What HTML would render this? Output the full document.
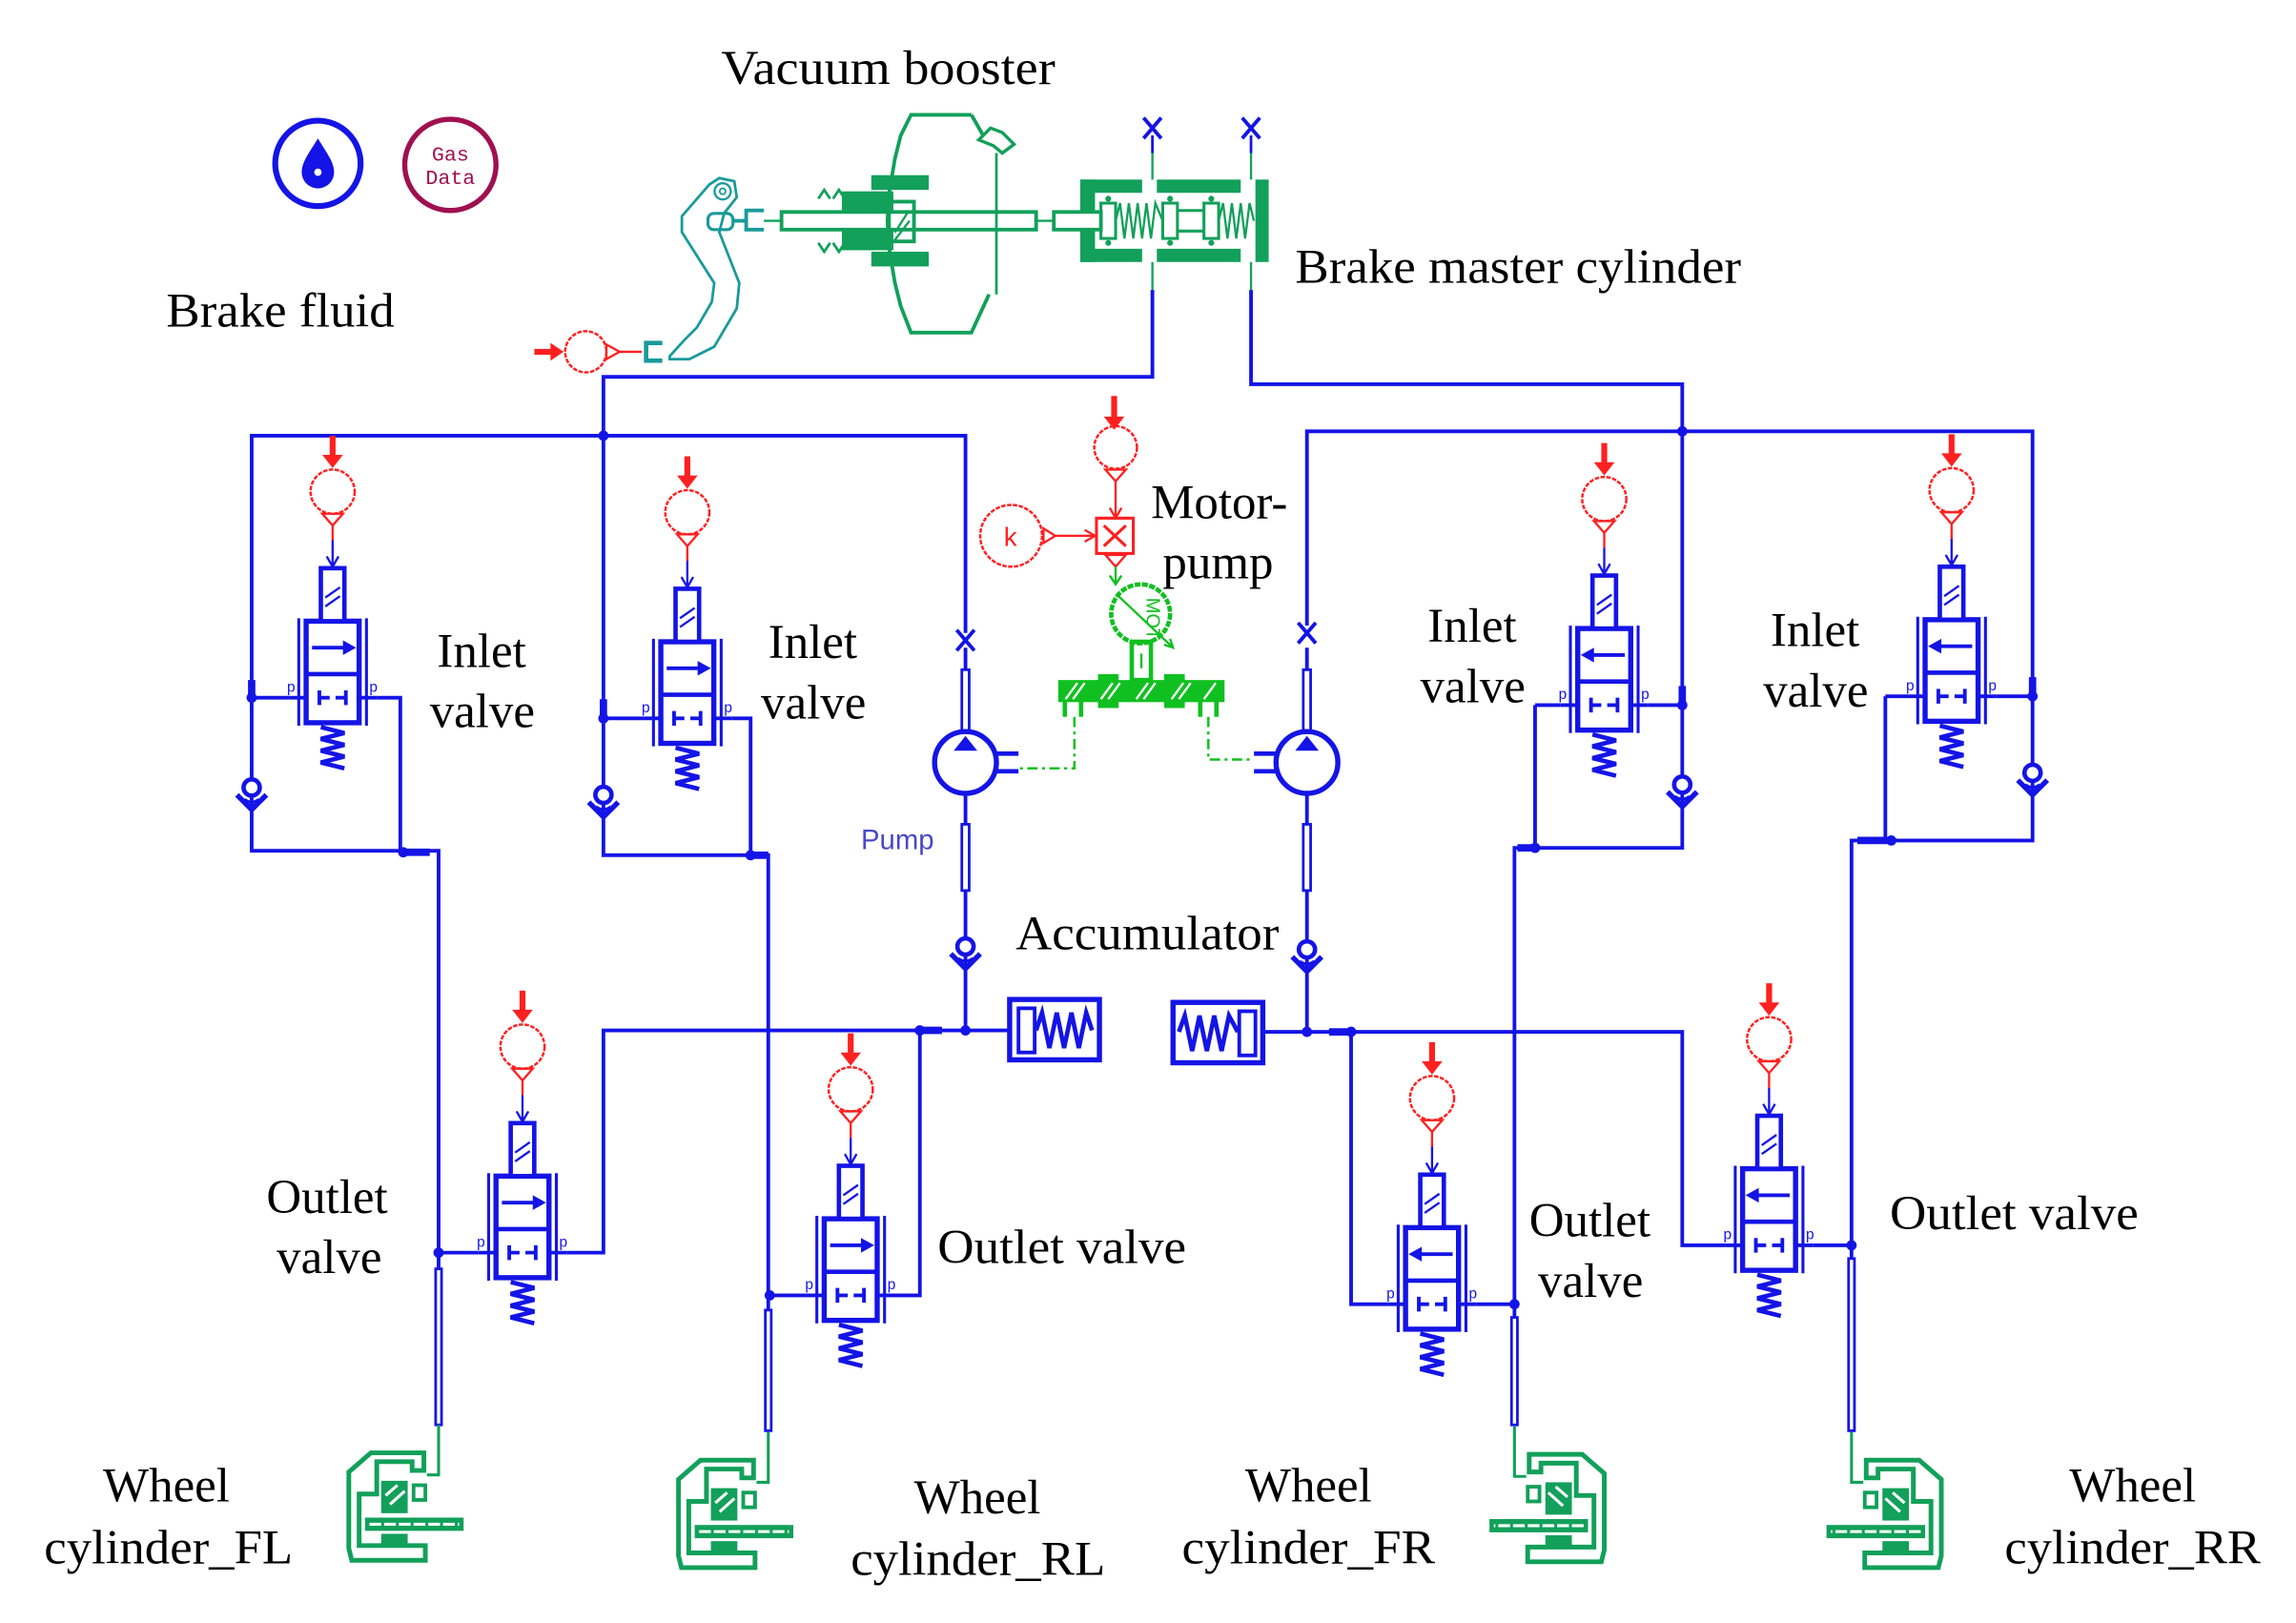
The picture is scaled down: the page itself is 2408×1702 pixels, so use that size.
<!DOCTYPE html>
<html><head><meta charset="utf-8"><style>
html,body{margin:0;padding:0;background:#fff;}
svg{display:block;}
text{font-family:"Liberation Serif",serif;fill:#000;}
</style></head><body>
<svg width="2408" height="1702" viewBox="0 0 1560 1102.6" preserveAspectRatio="none" xmlns="http://www.w3.org/2000/svg">
<defs>
<g id="valve">
 <rect x="-18" y="-52" width="36" height="69" fill="#fff" stroke="#1414e6" stroke-width="3.5"/>
 <line x1="-18" y1="-16" x2="18" y2="-16" stroke="#1414e6" stroke-width="3"/>
 <rect x="-8" y="-88" width="16" height="36" fill="#fff" stroke="#1414e6" stroke-width="3"/>
 <path d="M-5,-68 L5,-75 M-5,-62 L5,-69" stroke="#1414e6" stroke-width="1.5" fill="none"/>
 <path d="M-23,-54 V19 M23,-54 V19" stroke="#1414e6" stroke-width="2" fill="none"/>
 <path d="M-9,-5 V5 M-9,0 H-2 M9,-5 V5 M9,0 H2 M-18,0 H-30 M18,0 H30" stroke="#1414e6" stroke-width="2.5" fill="none"/>
 <path d="M-8,20 L8,24 L-8,28 L8,32 L-8,36 L8,40 L-8,44 L8,48" stroke="#1414e6" stroke-width="3" fill="none"/>
 <text x="-31" y="-4" font-size="10" style="font-family:'Liberation Sans',sans-serif;fill:#1414e6">p</text>
 <text x="25" y="-4" font-size="10" style="font-family:'Liberation Sans',sans-serif;fill:#1414e6">p</text>
 <circle cx="0" cy="-140" r="15" fill="none" stroke="#ff2020" stroke-width="1.6" stroke-dasharray="3 1"/>
 <path d="M-7,-125 L7,-125 L0,-117 Z M0,-117 V-107" stroke="#ff2020" stroke-width="1.5" fill="none"/>
 <path d="M0,-107 V-89 M-4,-96 L0,-89 L4,-96" stroke="#1414e6" stroke-width="1.5" fill="none"/>
 <path d="M0,-178 V-164" stroke="#ff2020" stroke-width="4"/>
 <polygon points="-7,-165 7,-165 0,-156" fill="#ff2020"/>
</g>
<g id="arrR"><line x1="-14" y1="-34" x2="10" y2="-34" stroke="#1414e6" stroke-width="2.5"/><polygon points="16,-34 7,-39 7,-29" fill="#1414e6"/></g>
<g id="chk">
 <circle cx="0" cy="-5" r="5.5" fill="#fff" stroke="#1414e6" stroke-width="3"/>
 <path d="M-10,0 L0,10 L10,0" stroke="#1414e6" stroke-width="3.5" fill="none"/>
 <path d="M-5,3 Q0,7 5,3" stroke="#1414e6" stroke-width="2" fill="none"/>
</g>
<g id="xm"><path d="M-6,-7 L6,7 M6,-7 L-6,7" stroke="#1414e6" stroke-width="2.5"/></g>
<g id="dp"><rect x="-2.5" y="0" width="5" height="1" fill="#fff" stroke="#1414e6" stroke-width="1.8"/></g>
<g id="wheel" stroke="#12a05a" fill="none">
 <path d="M298,968 V1002 H290" stroke-width="2"/>
 <path d="M280,999 H288 V987 H252 L237,1000 V1052 L239,1060 H289 V1050 H244 V1015 H256 V993 H280 Z" stroke-width="3.2"/>
 <rect x="259" y="1006" width="18" height="22" fill="#12a05a" stroke="none"/>
 <path d="M262,1016 L270,1009 M265,1022 L275,1013" stroke="#fff" stroke-width="2"/>
 <rect x="281" y="1009" width="8" height="10" stroke-width="2.5"/>
 <rect x="248" y="1031" width="67" height="9" fill="#12a05a" stroke="none"/>
 <line x1="251" y1="1035.5" x2="312" y2="1035.5" stroke="#fff" stroke-width="2" stroke-dasharray="8 2"/>
 <rect x="259" y="1042" width="18" height="8" fill="#12a05a" stroke="none"/>
</g>
</defs>

<!-- icons -->
<circle cx="216" cy="111" r="29" fill="none" stroke="#1414e6" stroke-width="4"/>
<path d="M216,94 C210,104 205,110 205,117 A11,11 0 0 0 227,117 C227,110 222,104 216,94 Z" fill="#1414e6"/>
<circle cx="216" cy="117" r="2.5" fill="#fff"/>
<circle cx="306" cy="112" r="31" fill="none" stroke="#a01050" stroke-width="3.5"/>
<text x="306" y="109" font-size="14" text-anchor="middle" style="font-family:'Liberation Mono',monospace;fill:#a01050">Gas</text>
<text x="306" y="125" font-size="14" text-anchor="middle" style="font-family:'Liberation Mono',monospace;fill:#a01050">Data</text>

<!-- pedal -->
<path d="M363,239 H376" stroke="#ff2020" stroke-width="4"/>
<polygon points="374,233 383,239 374,245" fill="#ff2020"/>
<circle cx="398" cy="239" r="14" fill="none" stroke="#ff2020" stroke-width="1.6" stroke-dasharray="3 1"/>
<path d="M412,234 L421,239 L412,244 Z M421,239 H436" stroke="#ff2020" stroke-width="1.5" fill="none"/>
<path d="M450,233 H439 V245 H450" stroke="#1a9a9a" stroke-width="3" fill="none"/>
<path d="M455,242 L465,231 L473.5,222.5 L483.6,205.2 L485.3,192.3 L463.3,157.7 L463.3,146.9 L482,125.3 L488.7,121 L498.9,123.1 L500.6,134 L492.1,144.7 L488.7,157.7 L502.3,192.3 L500.6,209.5 L485.3,235.5 L468.4,244 L455,244 Z" fill="none" stroke="#1a9a9a" stroke-width="1.8"/>
<circle cx="491" cy="130" r="5.5" fill="none" stroke="#1a9a9a" stroke-width="1.5"/>
<circle cx="491" cy="130" r="2" fill="none" stroke="#1a9a9a" stroke-width="1.2"/>
<rect x="481" y="145" width="17" height="11" rx="4" fill="none" stroke="#1a9a9a" stroke-width="2"/>
<path d="M498,150 H506 M519,143 H507 V156 H519" stroke="#1a9a9a" stroke-width="2.5" fill="none"/>
<!-- booster -->
<g stroke="#12a05a" fill="none">
 <path d="M519,150 H531" stroke-width="1.5"/>
 <rect x="531" y="144" width="173" height="12" stroke-width="2.5"/>
 <path d="M704,150 H716" stroke-width="1.5"/>
 <rect x="716" y="144" width="32" height="12" stroke-width="2.5"/>
 <path d="M660,78 H619 L612,92 L608,108 L606,120 L604,132 L603,150 L604,168 L606,180 L608,192 L612,208 L619,226 H660 L672,200 M660,78 L668,92" stroke-width="2.5"/>
 <path d="M677,104 V200" stroke-width="1.8"/>
 <path d="M665,95 L673,87 L681,90 L689,98 L681,104 L675,99 Z" stroke-width="2.2"/>
 <rect x="604" y="137" width="17" height="27" stroke-width="2.5"/>
 <path d="M608,158 L617,144 M608,163 L618,150" stroke-width="1.5"/>
 <path d="M556,135 L560,129 L564,135 M566,135 L570,129 L574,135 M556,165 L560,171 L564,165 M566,165 L570,171 L574,165" stroke-width="1.8"/>
</g>
<g fill="#12a05a">
 <rect x="592" y="119" width="39" height="10"/><rect x="592" y="171" width="39" height="10"/>
 <rect x="572" y="130" width="35" height="13"/><rect x="572" y="157" width="35" height="13"/>
</g>
<!-- master cylinder -->
<g fill="#12a05a">
 <rect x="734" y="122" width="42" height="9"/><rect x="786" y="122" width="57" height="9"/>
 <rect x="734" y="169" width="42" height="9"/><rect x="786" y="169" width="57" height="9"/>
 <rect x="734" y="122" width="10" height="21"/><rect x="734" y="157" width="10" height="21"/>
 <rect x="853" y="122" width="9" height="56"/>
</g>
<g stroke="#12a05a" fill="none" stroke-width="2">
 <rect x="748" y="138" width="10" height="24"/><rect x="790" y="138" width="10" height="24"/><rect x="818" y="138" width="10" height="24"/>
 <path d="M800,143 H818 M800,157 H818"/>
 <path d="M758,150 L761,138 L764,162 L767,138 L770,162 L773,138 L776,162 L779,138 L782,162 L785,138 L790,150" stroke-width="1.5"/>
 <path d="M828,150 L831,138 L834,162 L837,138 L840,162 L843,138 L846,162 L849,138 L852,150" stroke-width="1.5"/>
 <path d="M783,104 V122 M850,104 V122 M783,178 V197 M850,178 V197" stroke-width="1.5"/>
</g>
<g fill="#12a05a"><circle cx="753" cy="135" r="2"/><circle cx="753" cy="165" r="2"/><circle cx="795" cy="135" r="2"/><circle cx="795" cy="165" r="2"/><circle cx="823" cy="135" r="2"/><circle cx="823" cy="165" r="2"/></g>
<path d="M783,92 V104 M850,92 V104" stroke="#1414e6" stroke-width="1.8"/>
<use href="#xm" x="783" y="87"/><use href="#xm" x="850" y="87"/>

<!-- pipes -->
<g stroke="#1414e6" stroke-width="2.5" fill="none">
 <path d="M783,197 V256 H410 V581 H522 V890"/>
 <path d="M656,430 V296 H171 V578 H298 V862"/>
 <path d="M171,474 H196 M256,474 H272 V578"/>
 <path d="M410,488 H437 M497,488 H510 V581"/>
 <path d="M656,440 V455 M656,540 V560 M656,605 V700 H410 V851 H385"/>
 <path d="M686,700 H656 M625,700 V880 H608 M325,851 H298 M548,880 H523"/>
 <path d="M850,197 V261 H1143 V576 H1029 V895"/>
 <path d="M888,425 V293 H1381 V571 H1258 V855"/>
 <path d="M1043,479 V576 M1043,479 H1060 M1120,479 H1143"/>
 <path d="M1281,473 V571 M1281,473 H1296 M1356,473 H1381"/>
 <path d="M888,440 V455 M888,540 V560 M888,605 V701 H1143 V846 H1172"/>
 <path d="M858,701 H888 M918,701 V886 H943 M1003,886 H1029 M1232,846 H1258"/>
</g>
<!-- thick junction stubs -->
<g stroke="#1414e6" stroke-width="5">
 <path d="M274,579 H292 M510,581 H522 M1043,576 H1031 M1285,571 H1262 M625,700 H640 M903,701 H918 M171,462 V474 M410,475 V488 M1143,466 V479 M1381,460 V473"/>
</g>
<g fill="#1414e6">
 <circle cx="410" cy="296" r="3.5"/><circle cx="1143" cy="293" r="3.5"/>
 <circle cx="171" cy="474" r="3.5"/><circle cx="410" cy="488" r="3.5"/><circle cx="1143" cy="479" r="3.5"/><circle cx="1381" cy="473" r="3.5"/>
 <circle cx="274" cy="579" r="3.5"/><circle cx="510" cy="581" r="3.5"/><circle cx="1043" cy="576" r="3.5"/><circle cx="1285" cy="571" r="3.5"/>
 <circle cx="656" cy="700" r="3.5"/><circle cx="625" cy="700" r="3.5"/><circle cx="888" cy="701" r="3.5"/><circle cx="918" cy="701" r="3.5"/>
 <circle cx="298" cy="851" r="3.5"/><circle cx="523" cy="880" r="3.5"/><circle cx="1029" cy="886" r="3.5"/><circle cx="1258" cy="846" r="3.5"/>
</g>
<!-- double pipes -->
<g fill="#fff" stroke="#1414e6" stroke-width="1.8">
 <rect x="653.5" y="455" width="5" height="50"/><rect x="653.5" y="560" width="5" height="45"/>
 <rect x="885.5" y="455" width="5" height="50"/><rect x="885.5" y="560" width="5" height="45"/>
 <rect x="296" y="862" width="4" height="106"/><rect x="520" y="890" width="4" height="82"/>
 <rect x="1027" y="895" width="4" height="73"/><rect x="1256" y="855" width="4" height="117"/>
</g>
<use href="#xm" x="656" y="435"/><use href="#xm" x="888" y="430"/>
<!-- check valves -->
<use href="#chk" x="171" y="540"/><use href="#chk" x="410" y="545"/><use href="#chk" x="656" y="648"/>
<use href="#chk" x="888" y="650"/><use href="#chk" x="1143" y="538"/><use href="#chk" x="1381" y="530"/>

<!-- pumps -->
<g stroke="#1414e6" stroke-width="3.5" fill="#fff">
 <circle cx="656" cy="518" r="21"/><circle cx="888" cy="518" r="21"/>
</g>
<polygon points="656,500 648,510 664,510" fill="#1414e6"/>
<polygon points="888,500 880,510 896,510" fill="#1414e6"/>
<path d="M677,512 H692 M677,524 H692 M867,512 H852 M867,524 H852" stroke="#1414e6" stroke-width="3"/>
<text x="585" y="577" font-size="19" style="font-family:'Liberation Sans',sans-serif;fill:#4848c8">Pump</text>

<!-- accumulators -->
<g stroke="#1414e6" fill="none">
 <rect x="686" y="679" width="61" height="41" stroke-width="3.5"/>
 <rect x="692" y="685" width="11" height="30" stroke-width="2.5"/>
 <path d="M704,700 L708,688 L713,712 L718,688 L723,712 L728,688 L733,712 L738,688 L742,700" stroke-width="3"/>
 <rect x="797" y="681" width="61" height="41" stroke-width="3.5"/>
 <rect x="842" y="687" width="11" height="30" stroke-width="2.5"/>
 <path d="M801,701 L805,690 L810,714 L815,690 L820,714 L825,690 L830,714 L835,690 L841,701" stroke-width="3"/>
</g>

<!-- motor pump -->
<path d="M757,269 V284" stroke="#ff2020" stroke-width="4"/>
<polygon points="750,283 764,283 757,292" fill="#ff2020"/>
<circle cx="758" cy="304" r="14.5" fill="none" stroke="#ff2020" stroke-width="1.6" stroke-dasharray="3 1"/>
<path d="M751,319 L765,319 L758,327 Z M758,327 V352 M754,345 L758,352 L762,345" stroke="#ff2020" stroke-width="1.5" fill="none"/>
<rect x="745" y="352" width="25" height="24" fill="none" stroke="#ff2020" stroke-width="2"/>
<path d="M750,357 L765,371 M765,357 L750,371" stroke="#ff2020" stroke-width="2"/>
<circle cx="687" cy="364" r="21" fill="none" stroke="#ff2020" stroke-width="1.6" stroke-dasharray="3 1"/>
<text x="682" y="371" font-size="18" style="font-family:'Liberation Sans',sans-serif;fill:#ff2020">k</text>
<path d="M709,359 L717,364 L709,369 Z M717,364 H744 M737,360 L744,364 L737,368" stroke="#ff2020" stroke-width="1.5" fill="none"/>
<path d="M751,377 L765,377 L758,385 Z" stroke="#ff2020" stroke-width="1.5" fill="none"/>
<path d="M758,385 V397 M754,391 L758,397 L762,391" stroke="#10c020" stroke-width="1.5" fill="none"/>
<circle cx="775" cy="417" r="20" fill="none" stroke="#10c020" stroke-width="3" stroke-dasharray="4 1"/>
<text x="0" y="0" font-size="13" transform="translate(779,406) rotate(90)" style="font-family:'Liberation Sans',sans-serif;fill:#10c020">MOT</text>
<path d="M760,405 L797,440 M791,438 L797,440 L795,434" stroke="#10c020" stroke-width="1.5" fill="none"/>
<rect x="769" y="436" width="13" height="26" fill="none" stroke="#10c020" stroke-width="3"/>
<path d="M775.5,444 V454" stroke="#10c020" stroke-width="1.5"/>
<rect x="719" y="462" width="113" height="15" fill="#10c020"/>
<path d="M724,475 L732,464 M729,475 L737,464 M748,475 L756,464 M753,475 L761,464 M772,475 L780,464 M777,475 L785,464 M796,475 L804,464 M801,475 L809,464 M818,475 L826,464" stroke="#fff" stroke-width="1.5"/>
<g fill="#10c020"><rect x="746" y="458" width="14" height="5"/><rect x="791" y="458" width="14" height="5"/><rect x="746" y="476" width="14" height="5"/><rect x="791" y="476" width="14" height="5"/>
<rect x="722" y="476" width="3" height="11"/><rect x="733" y="476" width="3" height="11"/><rect x="814" y="476" width="3" height="11"/><rect x="825" y="476" width="3" height="11"/></g>
<path d="M730,487 V522 H692 M821,487 V516 H852" stroke="#10c020" stroke-width="1.6" fill="none" stroke-dasharray="7 3 2 3"/>

<!-- valves -->
<use href="#valve" x="226" y="474"/><use href="#arrR" x="226" y="474"/>
<use href="#valve" x="467" y="488"/><use href="#arrR" x="467" y="488"/>
<use href="#valve" x="1090" y="479"/><use href="#arrR" transform="translate(1090,479) scale(-1,1)"/>
<use href="#valve" x="1326" y="473"/><use href="#arrR" transform="translate(1326,473) scale(-1,1)"/>
<use href="#valve" x="355" y="851"/><use href="#arrR" x="355" y="851"/>
<use href="#valve" x="578" y="880"/><use href="#arrR" x="578" y="880"/>
<use href="#valve" x="973" y="886"/><use href="#arrR" transform="translate(973,886) scale(-1,1)"/>
<use href="#valve" x="1202" y="846"/><use href="#arrR" transform="translate(1202,846) scale(-1,1)"/>

<!-- wheel cylinders -->
<use href="#wheel"/>
<use href="#wheel" transform="translate(224,5)"/>
<use href="#wheel" transform="matrix(-1,0,0,1,1327,1)"/>
<use href="#wheel" transform="matrix(-1,0,0,1,1556,5)"/>

<!-- labels -->
<g font-size="33">
<text x="490" y="57" textLength="227" lengthAdjust="spacingAndGlyphs">Vacuum booster</text>
<text x="880" y="192" textLength="303" lengthAdjust="spacingAndGlyphs">Brake master cylinder</text>
<text x="113" y="222" textLength="155" lengthAdjust="spacingAndGlyphs">Brake fluid</text>
<text x="782" y="352">Motor-</text>
<text x="790" y="393">pump</text>
<text x="297" y="453">Inlet</text><text x="292" y="494">valve</text>
<text x="522" y="447">Inlet</text><text x="517" y="488">valve</text>
<text x="970" y="436">Inlet</text><text x="965" y="477">valve</text>
<text x="1203" y="439">Inlet</text><text x="1198" y="480">valve</text>
<text x="690" y="645" textLength="179" lengthAdjust="spacingAndGlyphs">Accumulator</text>
<text x="181" y="824">Outlet</text><text x="188" y="865">valve</text>
<text x="637" y="858" textLength="169" lengthAdjust="spacingAndGlyphs">Outlet valve</text>
<text x="1039" y="840">Outlet</text><text x="1045" y="881">valve</text>
<text x="1284" y="835" textLength="169" lengthAdjust="spacingAndGlyphs">Outlet valve</text>
<text x="70" y="1020">Wheel</text><text x="30" y="1062" textLength="169" lengthAdjust="spacingAndGlyphs">cylinder_FL</text>
<text x="621" y="1028">Wheel</text><text x="578" y="1070" textLength="173" lengthAdjust="spacingAndGlyphs">cylinder_RL</text>
<text x="846" y="1020">Wheel</text><text x="803" y="1062" textLength="172" lengthAdjust="spacingAndGlyphs">cylinder_FR</text>
<text x="1406" y="1020">Wheel</text><text x="1362" y="1062" textLength="174" lengthAdjust="spacingAndGlyphs">cylinder_RR</text>
</g>
</svg>
</body></html>
